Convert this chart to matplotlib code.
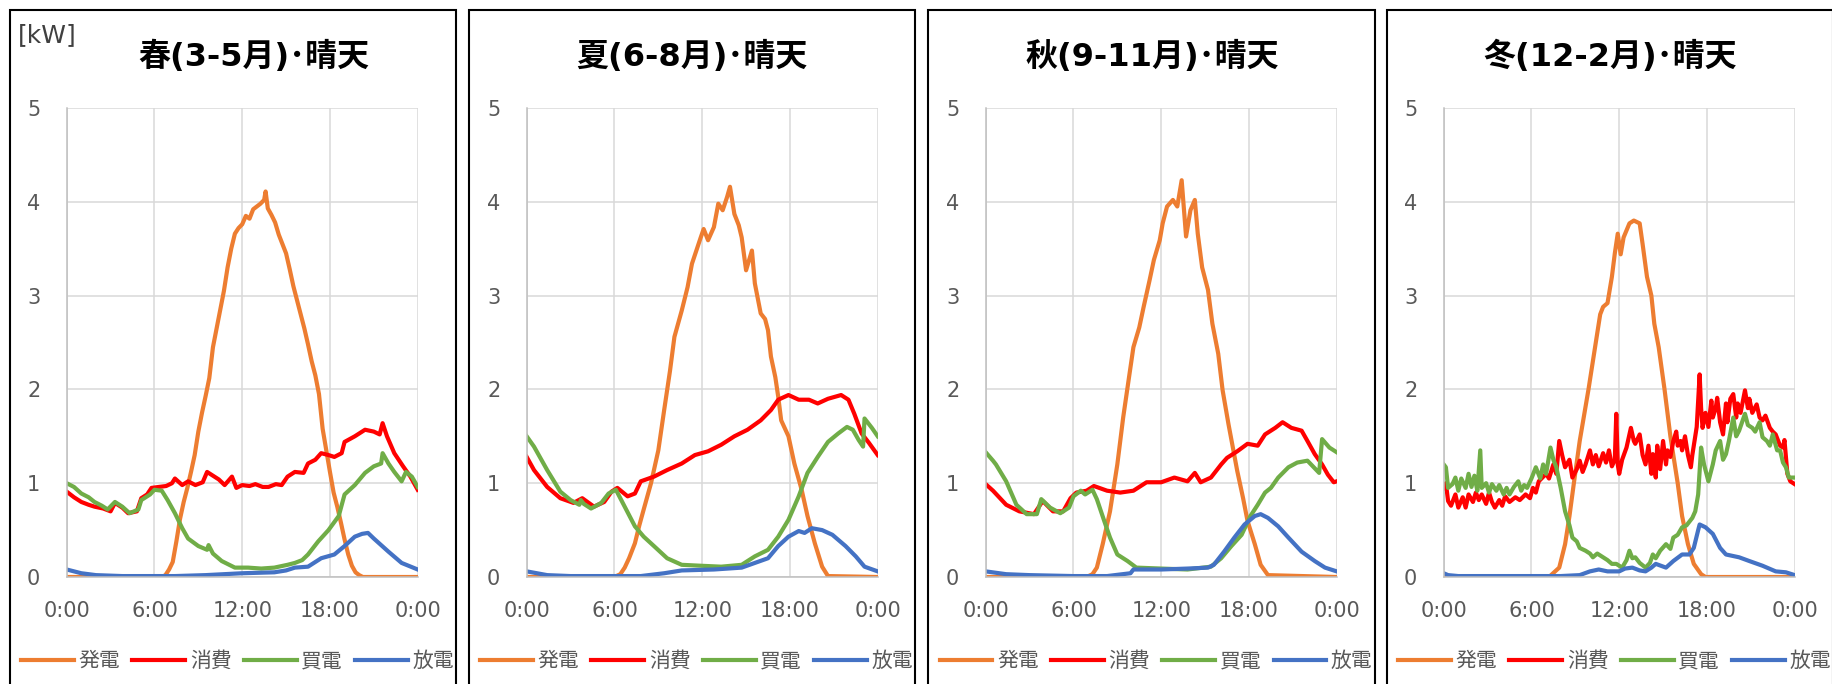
import matplotlib
matplotlib.use("Agg")
import matplotlib.pyplot as plt
from matplotlib.patches import Rectangle

# ---------------- data (hours, kW) ----------------
titles = ["春(3-5月)･晴天", "夏(6-8月)･晴天", "秋(9-11月)･晴天", "冬(12-2月)･晴天"]
series_names = ["発電", "消費", "買電", "放電"]
x_tick_labels = ["0:00", "6:00", "12:00", "18:00", "0:00"]
y_ticks = [0, 1, 2, 3, 4, 5]

# Spring
spring_gen_h = [0, 6.5, 6.75, 7.0, 7.25, 7.5, 7.75, 8.0, 8.25, 8.5, 8.75, 9.0, 9.25, 9.5, 9.75, 10.0, 10.25, 10.5, 10.75, 11.0, 11.25, 11.5, 11.75, 12.0, 12.25, 12.5, 12.75, 13.0, 13.25, 13.5, 13.6, 13.75, 14.0, 14.25, 14.5, 14.75, 15.0, 15.25, 15.5, 15.75, 16.0, 16.25, 16.5, 16.75, 17.0, 17.25, 17.5, 17.75, 18.0, 18.25, 18.5, 18.75, 19.0, 19.25, 19.5, 19.75, 20.0, 20.25, 24]
spring_gen_kw = [0, 0, 0.02, 0.08, 0.16, 0.38, 0.62, 0.80, 0.95, 1.12, 1.30, 1.55, 1.75, 1.93, 2.12, 2.45, 2.65, 2.85, 3.05, 3.30, 3.50, 3.66, 3.72, 3.76, 3.85, 3.82, 3.92, 3.95, 3.98, 4.02, 4.11, 3.93, 3.86, 3.78, 3.65, 3.55, 3.45, 3.28, 3.10, 2.95, 2.80, 2.65, 2.48, 2.30, 2.15, 1.95, 1.58, 1.35, 1.12, 0.90, 0.75, 0.58, 0.40, 0.24, 0.12, 0.05, 0.02, 0, 0]
spring_use_h = [0, 0.5, 1.0, 1.5, 1.9, 2.5, 3.0, 3.3, 3.8, 4.2, 4.8, 5.1, 5.5, 5.8, 6.3, 6.8, 7.2, 7.4, 7.9, 8.3, 8.8, 9.3, 9.6, 9.9, 10.4, 10.8, 11.3, 11.6, 12.0, 12.5, 12.9, 13.4, 13.8, 14.3, 14.7, 15.1, 15.6, 16.2, 16.5, 17.0, 17.4, 17.9, 18.3, 18.8, 19.0, 19.7, 20.4, 21.0, 21.4, 21.6, 21.9, 22.4, 23.0, 23.5, 24]
spring_use_kw = [0.91, 0.85, 0.80, 0.77, 0.75, 0.73, 0.70, 0.79, 0.74, 0.68, 0.70, 0.84, 0.88, 0.95, 0.96, 0.97, 1.00, 1.05, 0.98, 1.02, 0.98, 1.01, 1.12, 1.09, 1.04, 0.98, 1.07, 0.95, 0.98, 0.97, 0.99, 0.96, 0.96, 0.99, 0.98, 1.07, 1.12, 1.11, 1.21, 1.25, 1.32, 1.30, 1.28, 1.32, 1.44, 1.50, 1.57, 1.55, 1.52, 1.64, 1.50, 1.32, 1.18, 1.07, 0.93]
spring_buy_h = [0, 0.5, 1.0, 1.5, 1.9, 2.4, 2.8, 3.3, 3.8, 4.3, 4.9, 5.1, 5.7, 6.0, 6.5, 6.9, 7.4, 7.9, 8.3, 9.0, 9.6, 9.7, 10.0, 10.6, 11.5, 12.4, 13.3, 14.2, 15.1, 15.6, 16.1, 16.5, 17.2, 17.9, 18.6, 19.0, 19.7, 20.4, 21.0, 21.5, 21.6, 22.0, 22.4, 22.9, 23.2, 23.6, 24]
spring_buy_kw = [1.00, 0.96, 0.89, 0.85, 0.80, 0.76, 0.72, 0.80, 0.75, 0.68, 0.72, 0.82, 0.88, 0.93, 0.92, 0.82, 0.68, 0.52, 0.41, 0.33, 0.29, 0.34, 0.25, 0.17, 0.10, 0.10, 0.09, 0.10, 0.13, 0.15, 0.18, 0.24, 0.38, 0.50, 0.65, 0.88, 0.98, 1.11, 1.18, 1.21, 1.32, 1.21, 1.12, 1.02, 1.12, 1.07, 0.96]
spring_dis_h = [0, 1.0, 2.0, 3.8, 6.0, 7.4, 9.5, 12.0, 14.2, 15.0, 15.6, 16.5, 17.4, 18.3, 19.0, 19.7, 20.2, 20.6, 21.0, 22.0, 22.9, 24]
spring_dis_kw = [0.08, 0.04, 0.02, 0.01, 0.01, 0.01, 0.02, 0.04, 0.05, 0.07, 0.10, 0.11, 0.20, 0.24, 0.33, 0.43, 0.46, 0.47, 0.41, 0.27, 0.15, 0.08]

# Summer
summer_gen_h = [0, 6.0, 6.4, 6.7, 7.0, 7.4, 7.7, 8.0, 8.5, 9.0, 9.4, 9.8, 10.1, 10.6, 11.0, 11.3, 11.6, 11.9, 12.1, 12.4, 12.8, 13.1, 13.4, 13.7, 13.9, 14.2, 14.5, 14.7, 15.0, 15.4, 15.6, 16.0, 16.3, 16.5, 16.7, 17.0, 17.2, 17.4, 17.9, 18.3, 18.8, 19.2, 19.7, 20.2, 20.6, 24]
summer_gen_kw = [0, 0, 0.03, 0.10, 0.20, 0.36, 0.55, 0.72, 1.00, 1.35, 1.78, 2.20, 2.56, 2.84, 3.09, 3.34, 3.48, 3.62, 3.71, 3.59, 3.73, 3.98, 3.91, 4.05, 4.16, 3.87, 3.75, 3.62, 3.27, 3.48, 3.13, 2.81, 2.75, 2.63, 2.35, 2.13, 1.92, 1.67, 1.50, 1.21, 0.93, 0.65, 0.36, 0.11, 0.01, 0]
summer_use_h = [0, 0.5, 1.4, 2.3, 3.2, 3.8, 4.6, 5.3, 5.8, 6.2, 6.9, 7.4, 7.8, 8.7, 9.6, 10.6, 11.5, 12.4, 13.3, 14.2, 15.1, 16.0, 16.7, 17.2, 17.9, 18.6, 19.3, 19.9, 20.6, 21.5, 22.0, 22.4, 22.9, 23.4, 24]
summer_use_kw = [1.28, 1.14, 0.96, 0.84, 0.79, 0.84, 0.75, 0.80, 0.91, 0.95, 0.86, 0.89, 1.02, 1.07, 1.14, 1.21, 1.30, 1.34, 1.41, 1.50, 1.57, 1.67, 1.78, 1.89, 1.94, 1.89, 1.89, 1.85, 1.90, 1.94, 1.89, 1.74, 1.53, 1.43, 1.30]
summer_buy_h = [0, 0.5, 1.4, 2.3, 3.0, 3.6, 3.7, 3.9, 4.4, 5.1, 5.6, 6.1, 6.7, 7.4, 8.0, 8.7, 9.6, 10.6, 11.9, 13.3, 14.7, 15.6, 16.5, 17.2, 17.9, 18.6, 19.2, 19.9, 20.6, 21.3, 21.9, 22.3, 22.7, 23.0, 23.1, 23.6, 24]
summer_buy_kw = [1.50, 1.39, 1.14, 0.91, 0.82, 0.77, 0.82, 0.78, 0.73, 0.79, 0.89, 0.93, 0.75, 0.54, 0.43, 0.33, 0.20, 0.13, 0.12, 0.11, 0.13, 0.22, 0.29, 0.43, 0.61, 0.86, 1.11, 1.28, 1.44, 1.53, 1.60, 1.57, 1.46, 1.39, 1.69, 1.59, 1.50]
summer_dis_h = [0, 1.4, 3.0, 6.0, 7.8, 9.4, 10.6, 12.8, 14.7, 15.6, 16.5, 17.2, 17.9, 18.6, 19.0, 19.5, 20.2, 20.9, 21.8, 22.5, 23.1, 24]
summer_dis_kw = [0.06, 0.02, 0.01, 0.01, 0.01, 0.04, 0.07, 0.08, 0.10, 0.15, 0.20, 0.33, 0.43, 0.49, 0.47, 0.52, 0.50, 0.45, 0.33, 0.22, 0.11, 0.06]

# Autumn
autumn_gen_h = [0, 6.9, 7.3, 7.6, 8.0, 8.5, 9.0, 9.4, 9.8, 10.1, 10.5, 10.8, 11.2, 11.5, 11.9, 12.1, 12.4, 12.8, 13.1, 13.4, 13.7, 14.0, 14.3, 14.5, 14.8, 15.2, 15.5, 15.9, 16.2, 16.6, 16.9, 17.2, 17.6, 17.9, 18.4, 18.8, 19.3, 24]
autumn_gen_kw = [0, 0, 0.03, 0.10, 0.35, 0.70, 1.20, 1.70, 2.13, 2.45, 2.66, 2.88, 3.16, 3.38, 3.59, 3.77, 3.95, 4.02, 3.95, 4.23, 3.63, 3.91, 4.02, 3.66, 3.30, 3.06, 2.70, 2.38, 1.99, 1.63, 1.38, 1.13, 0.84, 0.60, 0.35, 0.13, 0.02, 0]
autumn_use_h = [0, 0.5, 1.4, 2.3, 3.3, 3.9, 4.6, 5.3, 5.8, 6.2, 6.9, 7.4, 8.3, 9.2, 10.1, 11.0, 12.0, 12.9, 13.8, 14.3, 14.7, 15.4, 16.1, 16.5, 17.2, 17.9, 18.6, 19.1, 19.8, 20.3, 20.9, 21.6, 22.0, 22.5, 23.0, 23.4, 23.8, 24]
autumn_use_kw = [0.99, 0.92, 0.77, 0.70, 0.67, 0.81, 0.70, 0.70, 0.84, 0.90, 0.92, 0.97, 0.92, 0.90, 0.92, 1.01, 1.01, 1.06, 1.02, 1.11, 1.01, 1.06, 1.20, 1.27, 1.34, 1.42, 1.40, 1.52, 1.59, 1.65, 1.59, 1.56, 1.45, 1.31, 1.20, 1.09, 1.01, 1.02]
autumn_buy_h = [0, 0.5, 0.7, 1.4, 2.1, 2.8, 3.5, 3.8, 4.4, 5.1, 5.7, 6.0, 6.5, 6.8, 7.3, 7.6, 8.1, 8.5, 9.0, 9.7, 10.3, 12.0, 13.8, 15.4, 16.1, 16.8, 17.5, 18.1, 18.6, 19.1, 19.5, 20.0, 20.7, 21.3, 22.0, 22.8, 23.0, 23.5, 24]
autumn_buy_kw = [1.33, 1.24, 1.20, 1.02, 0.77, 0.67, 0.67, 0.83, 0.74, 0.68, 0.74, 0.86, 0.92, 0.88, 0.93, 0.83, 0.60, 0.42, 0.24, 0.17, 0.10, 0.09, 0.08, 0.11, 0.20, 0.33, 0.45, 0.65, 0.77, 0.90, 0.95, 1.06, 1.17, 1.22, 1.24, 1.11, 1.47, 1.38, 1.33]
autumn_dis_h = [0, 1.4, 3.0, 6.0, 8.3, 9.9, 10.1, 12.0, 13.8, 15.2, 15.6, 16.3, 17.0, 17.7, 18.4, 18.8, 19.3, 20.0, 20.7, 21.6, 22.5, 23.2, 24]
autumn_dis_kw = [0.06, 0.03, 0.02, 0.01, 0.01, 0.04, 0.08, 0.08, 0.09, 0.10, 0.13, 0.27, 0.42, 0.56, 0.65, 0.67, 0.63, 0.54, 0.42, 0.27, 0.17, 0.10, 0.06]

# Winter
winter_gen_h = [0, 7.2, 7.9, 8.3, 8.6, 8.9, 9.3, 9.9, 10.3, 10.7, 10.9, 11.2, 11.5, 11.7, 11.9, 12.1, 12.3, 12.7, 13.0, 13.4, 13.6, 13.9, 14.2, 14.4, 14.7, 15.1, 15.5, 16.0, 16.3, 16.7, 17.1, 17.6, 17.9, 24]
winter_gen_kw = [0, 0, 0.10, 0.35, 0.65, 1.00, 1.45, 2.00, 2.40, 2.80, 2.88, 2.92, 3.20, 3.45, 3.66, 3.44, 3.62, 3.77, 3.80, 3.77, 3.55, 3.20, 3.00, 2.70, 2.45, 2.00, 1.50, 1.00, 0.65, 0.35, 0.14, 0.03, 0, 0]
winter_use_h = [0, 0.15, 0.3, 0.5, 0.8, 1.0, 1.3, 1.5, 1.7, 2.0, 2.2, 2.4, 2.6, 2.9, 3.1, 3.3, 3.5, 3.8, 4.0, 4.2, 4.5, 4.9, 5.2, 5.6, 5.9, 6.1, 6.3, 6.5, 7.0, 7.2, 7.5, 7.7, 7.9, 8.1, 8.3, 8.6, 8.8, 9.1, 9.3, 9.5, 9.7, 10.0, 10.2, 10.4, 10.6, 10.9, 11.1, 11.3, 11.5, 11.7, 11.8, 11.9, 12.0, 12.2, 12.5, 12.8, 13.0, 13.1, 13.4, 13.6, 13.8, 14.0, 14.2, 14.3, 14.5, 14.6, 14.8, 15.0, 15.2, 15.3, 15.5, 15.7, 15.9, 16.0, 16.2, 16.3, 16.5, 16.7, 16.9, 17.0, 17.3, 17.5, 17.6, 17.7, 17.9, 18.1, 18.3, 18.4, 18.6, 18.7, 18.9, 19.1, 19.3, 19.4, 19.6, 19.8, 20.0, 20.1, 20.3, 20.6, 20.8, 20.9, 21.1, 21.4, 21.6, 21.8, 22.0, 22.3, 22.5, 22.7, 23.0, 23.2, 23.3, 23.5, 23.7, 24]
winter_use_kw = [0.95, 1.00, 0.81, 0.76, 0.88, 0.74, 0.85, 0.74, 0.88, 0.80, 0.90, 0.82, 0.88, 0.78, 0.90, 0.80, 0.74, 0.82, 0.76, 0.86, 0.80, 0.85, 0.82, 0.88, 0.84, 0.95, 0.90, 1.02, 1.10, 1.05, 1.20, 1.10, 1.45, 1.30, 1.17, 1.25, 1.06, 1.15, 1.24, 1.12, 1.20, 1.35, 1.20, 1.30, 1.18, 1.32, 1.22, 1.35, 1.18, 1.25, 1.74, 1.20, 1.10, 1.25, 1.38, 1.59, 1.45, 1.42, 1.52, 1.30, 1.20, 1.40, 1.10, 1.31, 1.06, 1.40, 1.15, 1.45, 1.20, 1.35, 1.28, 1.45, 1.55, 1.40, 1.45, 1.35, 1.50, 1.30, 1.17, 1.30, 1.60, 2.16, 1.80, 1.59, 1.75, 1.60, 1.88, 1.70, 1.80, 1.91, 1.65, 1.52, 1.85, 1.65, 1.90, 1.95, 1.70, 1.85, 1.75, 1.99, 1.80, 1.90, 1.75, 1.84, 1.70, 1.67, 1.72, 1.59, 1.55, 1.52, 1.40, 1.38, 1.46, 1.10, 1.02, 0.99]
winter_buy_h = [0, 0.15, 0.3, 0.6, 0.8, 1.0, 1.2, 1.5, 1.7, 1.9, 2.1, 2.3, 2.5, 2.6, 2.9, 3.1, 3.3, 3.6, 3.8, 4.1, 4.3, 4.5, 4.8, 5.1, 5.3, 5.5, 5.7, 6.0, 6.3, 6.6, 6.8, 7.0, 7.3, 7.5, 7.7, 8.0, 8.3, 8.6, 8.8, 9.1, 9.3, 9.7, 10.0, 10.2, 10.5, 10.9, 11.2, 11.5, 11.8, 12.2, 12.5, 12.7, 12.9, 13.1, 13.4, 13.8, 14.1, 14.3, 14.5, 14.8, 15.2, 15.5, 15.7, 16.0, 16.3, 16.6, 17.0, 17.2, 17.4, 17.6, 17.8, 18.1, 18.4, 18.6, 18.9, 19.1, 19.3, 19.5, 19.8, 20.0, 20.2, 20.4, 20.6, 20.8, 21.1, 21.3, 21.6, 21.8, 22.1, 22.3, 22.5, 22.8, 23.0, 23.2, 23.4, 23.6, 24]
winter_buy_kw = [1.20, 1.17, 0.95, 0.99, 1.06, 0.92, 1.05, 0.95, 1.10, 0.96, 1.08, 0.92, 1.35, 0.95, 1.00, 0.90, 0.99, 0.92, 0.98, 0.88, 0.95, 0.88, 0.96, 1.02, 0.92, 0.98, 0.95, 1.05, 1.17, 1.05, 1.20, 1.10, 1.38, 1.25, 1.17, 0.95, 0.70, 0.55, 0.42, 0.38, 0.31, 0.28, 0.25, 0.21, 0.25, 0.21, 0.18, 0.14, 0.14, 0.10, 0.18, 0.28, 0.20, 0.21, 0.15, 0.10, 0.15, 0.24, 0.20, 0.28, 0.35, 0.30, 0.42, 0.45, 0.53, 0.55, 0.63, 0.70, 0.88, 1.38, 1.20, 1.02, 1.20, 1.35, 1.45, 1.25, 1.31, 1.45, 1.70, 1.50, 1.56, 1.65, 1.74, 1.62, 1.59, 1.55, 1.65, 1.49, 1.45, 1.40, 1.52, 1.35, 1.35, 1.22, 1.17, 1.06, 1.06]
winter_dis_h = [0, 0.3, 1.0, 3.0, 6.0, 8.0, 9.3, 10.0, 10.6, 11.2, 12.0, 12.4, 12.9, 13.4, 13.8, 14.2, 14.5, 15.2, 15.7, 16.3, 16.8, 17.1, 17.4, 17.5, 17.9, 18.4, 18.9, 19.3, 20.2, 20.9, 21.8, 22.7, 23.4, 24]
winter_dis_kw = [0.04, 0.02, 0.01, 0.01, 0.01, 0.01, 0.02, 0.06, 0.08, 0.06, 0.06, 0.09, 0.10, 0.07, 0.06, 0.10, 0.14, 0.10, 0.17, 0.24, 0.24, 0.31, 0.50, 0.56, 0.53, 0.46, 0.31, 0.24, 0.21, 0.17, 0.12, 0.06, 0.05, 0.02]

panels = [
    [(spring_gen_h, spring_gen_kw), (spring_use_h, spring_use_kw), (spring_buy_h, spring_buy_kw), (spring_dis_h, spring_dis_kw)],
    [(summer_gen_h, summer_gen_kw), (summer_use_h, summer_use_kw), (summer_buy_h, summer_buy_kw), (summer_dis_h, summer_dis_kw)],
    [(autumn_gen_h, autumn_gen_kw), (autumn_use_h, autumn_use_kw), (autumn_buy_h, autumn_buy_kw), (autumn_dis_h, autumn_dis_kw)],
    [(winter_gen_h, winter_gen_kw), (winter_use_h, winter_use_kw), (winter_buy_h, winter_buy_kw), (winter_dis_h, winter_dis_kw)],
]
colors = ["#ED7D31", "#FF0000", "#70AD47", "#4472C4"]

# ---------------- layout ----------------
W, H = 1832, 684
CJK = ["Noto Sans CJK JP", "DejaVu Sans"]
TITLE_FONT = ["DejaVu Sans", "Noto Sans CJK JP"]
fig = plt.figure(figsize=(W / 100, H / 100), dpi=100)
fig.patch.set_facecolor("white")

def fx(px):
    return px / W

def fy(py):
    return 1 - py / H

panel_left = [10, 469, 928.5, 1387]
plot_left = [66.7, 526.7, 985.7, 1443.7]
title_cx = [254, 692, 1152, 1610]
plot_w, plot_top, plot_bot = 351, 108, 577

for k in range(4):
    # panel frame
    fig.add_artist(Rectangle((fx(panel_left[k]), fy(700)), fx(446), 690 / H,
                             transform=fig.transFigure, fill=False,
                             edgecolor="black", linewidth=1.5))
    ax = fig.add_axes([fx(plot_left[k]), fy(plot_bot), fx(plot_w), (plot_bot - plot_top) / H])
    handles = []
    for (h, kw), c, name in zip(panels[k], colors, series_names):
        ln, = ax.plot(h, kw, color=c, lw=3.0, solid_joinstyle="round", label=name)
        handles.append(ln)
    ax.set_xlim(0, 24)
    ax.set_ylim(0, 5)
    ax.set_xticks([0, 6, 12, 18, 24])
    ax.set_xticklabels(x_tick_labels)
    ax.set_yticks(y_ticks)
    ax.grid(True, color="#D9D9D9", lw=1.1)
    ax.set_axisbelow(True)
    for s in ["top", "right"]:
        ax.spines[s].set_visible(False)
    for s in ["left", "bottom"]:
        ax.spines[s].set_color("#BFBFBF")
        ax.spines[s].set_linewidth(1.1)
    ax.tick_params(axis="both", length=0, labelsize=15, labelcolor="#595959")
    ax.tick_params(axis="y", pad=19)
    ax.tick_params(axis="x", pad=17)
    # title
    fig.text(fx(title_cx[k]), fy(57), titles[k], ha="center", va="center",
             fontsize=23, fontweight="bold", family=TITLE_FONT, color="black")
    # legend
    ax.legend(handles=handles, loc="center left",
              bbox_to_anchor=(fx(panel_left[k] + 11), fy(661)),
              bbox_transform=fig.transFigure, ncol=4, frameon=False,
              prop={"family": CJK, "size": 15}, labelcolor="#595959",
              handlelength=2.54, handletextpad=0.22, columnspacing=0.58,
              borderpad=0, borderaxespad=0)

fig.text(fx(18), fy(35), "[kW]", ha="left", va="center", fontsize=18, color="#404040")

fig.savefig("out.png", dpi=100, facecolor="white")
